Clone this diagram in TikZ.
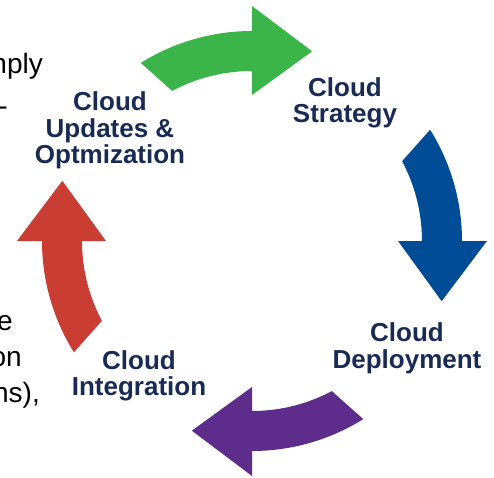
\documentclass[tikz,border=0pt]{standalone}
\usepackage{fontspec}
\setmainfont{Liberation Sans}
\definecolor{cgreen}{RGB}{59,181,74}
\definecolor{cblue}{RGB}{0,76,151}
\definecolor{cpurple}{RGB}{94,45,140}
\definecolor{cred}{RGB}{201,61,50}
\definecolor{cnavy}{RGB}{23,43,84}
\tikzset{
  lbl/.style={align=center, text=cnavy, inner sep=0pt,
    font=\bfseries\fontsize{26}{26.5}\selectfont},
  frag/.style={anchor=base east, inner sep=0pt, text=black,
    font=\fontsize{28}{34}\selectfont}
}
\newcommand\cyclearrow[2]{%
  \fill[#2, rotate=#1] (122:210) arc[start angle=122, end angle=90, radius=210]
    -- (90:235) -- (72.4:199) -- (90:146) -- (90:170)
    arc[start angle=90, end angle=118, radius=170] -- cycle;}
\begin{document}
\begin{tikzpicture}[x=1pt,y=1pt]
\useasboundingbox (-252,-236) rectangle (242,241);
\clip (-252,-236) rectangle (242,241);
\cyclearrow{0}{cgreen}
\cyclearrow{-90}{cblue}
\cyclearrow{-180}{cpurple}
\cyclearrow{90}{cred}
\node[lbl] (upd) at (-142,110.5) {Cloud\\Updates \&\\Optmization};
\node[lbl] (str) at (93,138) {Cloud\\Strategy};
\node[lbl] (dep) at (155,-107.5) {Cloud\\Deployment};
\node[lbl] (int) at (-113,-135) {Cloud\\Integration};
\node[frag] (f1) at (-209,168) {mply};
\node[frag] (f2) at (-244,126) {-};
\node[frag] (f3) at (-239,-89) {e};
\node[frag] (f4) at (-230,-125) {on};
\node[frag] (f5) at (-212,-161) {ns),};
\end{tikzpicture}
\end{document}
